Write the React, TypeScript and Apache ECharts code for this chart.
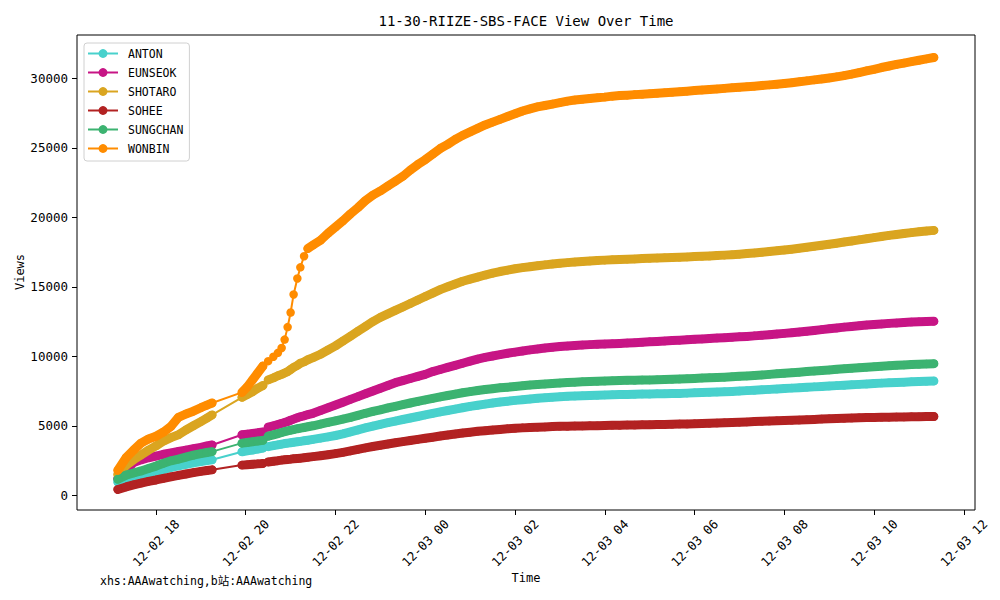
import React, { useEffect, useRef } from "react";
import * as echarts from "echarts";

const FONT = "'DejaVu Sans Mono', 'Noto Sans CJK SC', monospace";

const TITLE = "11-30-RIIZE-SBS-FACE View Over Time";
const X_NAME = "Time";
const Y_NAME = "Views";
const WATERMARK = "xhs:AAAwatching,b站:AAAwatching";

const NAMES = ["ANTON", "EUNSEOK", "SHOTARO", "SOHEE", "SUNGCHAN", "WONBIN"];
const COLORS = ["#48D1CC", "#C71585", "#DAA520", "#B22222", "#3CB371", "#FF8C00"];

const X_TICKS = [18, 20, 22, 24, 26, 28, 30, 32, 34, 36];
const Y_TICKS = [0, 5000, 10000, 15000, 20000, 25000, 30000];

const TIMES = [
  "12-02 17:09", "12-02 17:20", "12-02 17:30", "12-02 17:40", "12-02 17:50", "12-02 18:00", "12-02 18:10",
  "12-02 18:20", "12-02 18:30", "12-02 18:40", "12-02 18:50", "12-02 19:00", "12-02 19:08", "12-02 19:15",
  "12-02 19:55", "12-02 20:02", "12-02 20:09", "12-02 20:16", "12-02 20:23",
  "12-02 20:30", "12-02 20:37", "12-02 20:43", "12-02 20:48", "12-02 20:52", "12-02 20:56",
  "12-02 21:00", "12-02 21:04", "12-02 21:09", "12-02 21:13", "12-02 21:18", "12-02 21:23",
  "12-02 21:30", "12-02 21:40", "12-02 21:50",
  "12-02 22:00", "12-02 22:10", "12-02 22:20", "12-02 22:30", "12-02 22:40", "12-02 22:50",
  "12-02 23:00", "12-02 23:10", "12-02 23:20", "12-02 23:30", "12-02 23:40", "12-02 23:50",
  "12-03 00:00", "12-03 00:10", "12-03 00:20", "12-03 00:30", "12-03 00:40", "12-03 00:50",
  "12-03 01:00", "12-03 01:10", "12-03 01:20", "12-03 01:30", "12-03 01:40", "12-03 01:50",
  "12-03 02:00", "12-03 02:10", "12-03 02:20", "12-03 02:30", "12-03 02:40", "12-03 02:50",
  "12-03 03:00", "12-03 03:10", "12-03 03:20", "12-03 03:30", "12-03 03:40", "12-03 03:50",
  "12-03 04:00", "12-03 04:10", "12-03 04:20", "12-03 04:30", "12-03 04:40", "12-03 04:50",
  "12-03 05:00", "12-03 05:10", "12-03 05:20", "12-03 05:30", "12-03 05:40", "12-03 05:50",
  "12-03 06:00", "12-03 06:10", "12-03 06:20", "12-03 06:30", "12-03 06:40", "12-03 06:50",
  "12-03 07:00", "12-03 07:10", "12-03 07:20", "12-03 07:30", "12-03 07:40", "12-03 07:50",
  "12-03 08:00", "12-03 08:10", "12-03 08:20", "12-03 08:30", "12-03 08:40", "12-03 08:50",
  "12-03 09:00", "12-03 09:10", "12-03 09:20", "12-03 09:30", "12-03 09:40", "12-03 09:50",
  "12-03 10:00", "12-03 10:10", "12-03 10:20", "12-03 10:30", "12-03 10:40", "12-03 10:50",
  "12-03 11:00", "12-03 11:10", "12-03 11:20",
];

// Runs of closely spaced samples (drawn as a continuous band of markers)
const RUNS = [
  ["12-02 17:09", "12-02 19:15"],
  ["12-02 19:55", "12-02 20:23"],
  ["12-02 20:30", "12-03 11:20"],
];
const RUNS_WONBIN = [
  ["12-02 17:09", "12-02 19:15"],
  ["12-02 19:55", "12-02 20:23"],
  ["12-02 21:23", "12-03 11:20"],
];

const ANTON = [
  950, 1150, 1300, 1450, 1580, 1700, 1850, 2000, 2120, 2230, 2330, 2420, 2490, 2550,
  3130, 3200, 3260, 3330, 3400,
  3500, 3570, 3630, 3680, 3720, 3750, 3780, 3810, 3850, 3880, 3920, 3960,
  4020, 4110, 4200, 4300, 4420, 4560, 4700, 4850, 4980, 5100, 5220, 5340, 5450, 5560, 5670,
  5780, 5890, 6000, 6100, 6200, 6300,
  6400, 6480, 6560, 6640, 6710, 6770,
  6830, 6880, 6930, 6980, 7020, 7060,
  7090, 7120, 7140, 7160, 7180, 7200,
  7220, 7240, 7250, 7260, 7270, 7280,
  7290, 7300, 7310, 7320, 7330, 7350,
  7370, 7390, 7410, 7430, 7450, 7470,
  7500, 7530, 7560, 7590, 7620, 7650,
  7680, 7710, 7740, 7770, 7800, 7830,
  7860, 7890, 7920, 7950, 7980, 8010,
  8040, 8070, 8100, 8120, 8140, 8160,
  8180, 8200, 8220,
];

const EUNSEOK = [
  1200, 1800, 2350, 2550, 2700, 2820, 2950, 3050, 3150, 3250, 3350, 3450, 3550, 3620,
  4350, 4400, 4450, 4500, 4560,
  4900, 5000, 5090, 5170, 5240, 5310, 5400, 5480, 5580, 5650, 5720, 5800,
  5900, 6100, 6300, 6500, 6700, 6900, 7100, 7300, 7500, 7700, 7900, 8100, 8250, 8400, 8550,
  8700, 8900, 9050, 9200, 9350, 9500,
  9650, 9800, 9920, 10020, 10120, 10220,
  10300, 10380, 10460, 10530, 10600, 10650,
  10700, 10740, 10780, 10810, 10840, 10860,
  10880, 10900, 10920, 10950, 10980, 11010,
  11040, 11070, 11100, 11130, 11160, 11190,
  11220, 11250, 11280, 11310, 11340, 11370,
  11400, 11430, 11470, 11510, 11550, 11600,
  11650, 11700, 11750, 11800, 11860, 11920,
  11980, 12040, 12100, 12150, 12200, 12250,
  12290, 12330, 12370, 12400, 12430, 12460,
  12480, 12500, 12520,
];

const SHOTARO = [
  1500, 2150, 2550, 2900, 3250, 3550, 3900, 4150, 4350, 4700, 5000, 5300, 5550, 5780,
  7050, 7250, 7450, 7700, 7900,
  8300, 8450, 8600, 8700, 8800, 8900, 9050, 9200, 9350, 9500, 9600, 9750,
  9900, 10150, 10450, 10750, 11100, 11450, 11800, 12150, 12500, 12800, 13050, 13300, 13550, 13800, 14050,
  14300, 14550, 14800, 15000, 15200, 15400,
  15550, 15700, 15850, 15980, 16100, 16200,
  16300, 16380, 16450, 16520, 16580, 16640,
  16690, 16740, 16780, 16820, 16860, 16890,
  16920, 16950, 16970, 16990, 17010, 17030,
  17050, 17070, 17090, 17110, 17130, 17150,
  17180, 17200, 17220, 17250, 17280, 17310,
  17350, 17390, 17440, 17490, 17540, 17590,
  17650, 17710, 17780, 17850, 17920, 17990,
  18060, 18140, 18220, 18300, 18380, 18460,
  18540, 18620, 18700, 18770, 18840, 18900,
  18960, 19010, 19060,
];

const SOHEE = [
  420, 600, 750, 880, 1000, 1100, 1220, 1330, 1430, 1530, 1630, 1720, 1780, 1830,
  2170, 2200, 2230, 2260, 2290,
  2400, 2450, 2490, 2530, 2560, 2580, 2600, 2630, 2650, 2670, 2700, 2730,
  2780, 2850, 2920, 3000, 3090, 3190, 3300, 3410, 3510, 3600, 3690, 3780, 3860, 3940, 4020,
  4100, 4180, 4260, 4340, 4410, 4480,
  4540, 4600, 4650, 4700, 4740, 4780,
  4820, 4850, 4880, 4900, 4920, 4940,
  4960, 4970, 4980, 4990, 5000, 5010,
  5020, 5030, 5040, 5050, 5060, 5070,
  5080, 5090, 5100, 5110, 5120, 5130,
  5140, 5160, 5180, 5200, 5220, 5240,
  5260, 5280, 5300, 5320, 5340, 5360,
  5380, 5400, 5420, 5440, 5460, 5480,
  5500, 5520, 5540, 5560, 5580, 5590,
  5600, 5610, 5620, 5630, 5640, 5650,
  5655, 5660, 5665,
];

const SUNGCHAN = [
  1150, 1450, 1600, 1750, 1930, 2100, 2300, 2480, 2600, 2750, 2880, 3000, 3080, 3140,
  3750, 3800, 3850, 3900, 3950,
  4250, 4350, 4440, 4520, 4580, 4630, 4680, 4730, 4790, 4830, 4880, 4930,
  5000, 5120, 5240, 5360, 5480, 5600, 5750, 5900, 6030, 6150, 6280, 6400, 6520, 6640, 6750,
  6860, 6970, 7080, 7180, 7280, 7380,
  7460, 7540, 7610, 7670, 7730, 7780,
  7830, 7880, 7930, 7970, 8010, 8050,
  8080, 8110, 8140, 8160, 8180, 8200,
  8220, 8240, 8260, 8270, 8280, 8290,
  8300, 8310, 8330, 8350, 8370, 8390,
  8410, 8440, 8460, 8480, 8500, 8530,
  8560, 8590, 8620, 8660, 8700, 8740,
  8780, 8820, 8860, 8900, 8940, 8980,
  9020, 9060, 9100, 9140, 9180, 9220,
  9250, 9290, 9320, 9350, 9380, 9410,
  9430, 9450, 9470,
];

const WONBIN = [
  1800, 2700, 3250, 3750, 4050, 4250, 4550, 4950, 5600, 5850, 6050, 6300, 6480, 6640,
  7400, 7800, 8300, 8800, 9300,
  9650, 9970, 10250, 10600, 11200, 12100, 13150, 14450, 15600, 16400, 17200, 17750,
  18000, 18350, 18850, 19300, 19750, 20250, 20700, 21200, 21600, 21900, 22250, 22600, 22950, 23400, 23800,
  24150, 24550, 24950, 25250, 25600, 25900,
  26150, 26400, 26650, 26850, 27050, 27250,
  27450, 27650, 27800, 27950, 28050, 28150,
  28250, 28360, 28440, 28500, 28550, 28600,
  28650, 28720, 28760, 28790, 28830, 28860,
  28900, 28930, 28970, 29000, 29040, 29080,
  29120, 29160, 29200, 29240, 29280, 29320,
  29360, 29400, 29440, 29480, 29530, 29580,
  29630, 29690, 29750, 29820, 29890, 29960,
  30030, 30110, 30200, 30300, 30420, 30540,
  30650, 30780, 30890, 31000, 31100, 31200,
  31300, 31400, 31500,
];

const VALUES = [ANTON, EUNSEOK, SHOTARO, SOHEE, SUNGCHAN, WONBIN];

function toHours(s: string): number {
  const day = parseInt(s.slice(3, 5), 10);
  const hh = parseInt(s.slice(6, 8), 10);
  const mm = parseInt(s.slice(9, 11), 10);
  return (day - 2) * 24 + hh + mm / 60;
}

function fmtTick(h: number): string {
  const day = 2 + Math.floor(h / 24);
  const hh = Math.round(h - (day - 2) * 24);
  return `12-0${day} ${hh < 10 ? "0" + hh : hh}`;
}

function bandData(values: number[], runs: string[][]) {
  const out: any[] = [];
  runs.forEach((run, k) => {
    const a = TIMES.indexOf(run[0]);
    const b = TIMES.indexOf(run[1]);
    if (k > 0) out.push([toHours(run[0]) - 0.01, "-"]);
    for (let j = a; j <= b; j++) out.push([toHours(TIMES[j]), values[j]]);
  });
  return out;
}

export default function App() {
  const ref = useRef<HTMLDivElement>(null);

  useEffect(() => {
    document.body.style.margin = "0";
    if (!ref.current) return;
    const chart = echarts.init(ref.current, undefined, { renderer: "svg" });

    const series: any[] = [];
    NAMES.forEach((name, i) => {
      series.push({
        name,
        type: "line",
        data: TIMES.map((t, j) => [toHours(t), VALUES[i][j]]),
        symbol: "circle",
        symbolSize: 8.5,
        showSymbol: true,
        showAllSymbol: true,
        lineStyle: { width: 2, color: COLORS[i] },
        itemStyle: { color: COLORS[i] },
        emphasis: { disabled: true },
        z: 2 + i,
      });
      series.push({
        name,
        type: "line",
        data: bandData(VALUES[i], name === "WONBIN" ? RUNS_WONBIN : RUNS),
        symbol: "none",
        connectNulls: false,
        lineStyle: { width: 9, color: COLORS[i], cap: "round", join: "round" },
        itemStyle: { color: COLORS[i] },
        emphasis: { disabled: true },
        z: 2 + i,
      });
    });

    chart.setOption({
      animation: false,
      textStyle: { fontFamily: FONT },
      grid: {
        left: 77,
        right: 25,
        top: 35,
        bottom: 90,
        show: true,
        borderColor: "#000",
        borderWidth: 1,
        backgroundColor: "transparent",
      },
      legend: {
        orient: "vertical",
        left: 84,
        top: 43,
        padding: [3, 6, 5, 3],
        itemWidth: 30,
        itemHeight: 11,
        itemGap: 4,
        borderColor: "#d0d0d0",
        borderWidth: 1,
        borderRadius: 3,
        backgroundColor: "rgba(255,255,255,0.8)",
        selectedMode: false,
        textStyle: {
          fontFamily: FONT,
          fontSize: 11.5,
          color: "#000",
          lineHeight: 15,
          padding: [0, 0, 0, 5],
        },
        data: NAMES.map((n, i) => ({
          name: n,
          itemStyle: { color: COLORS[i] },
          lineStyle: { color: COLORS[i], width: 2 },
        })),
      },
      xAxis: {
        type: "value",
        min: 16.24,
        max: 36.25,
        axisLine: { show: false, onZero: false },
        splitLine: { show: false },
        axisTick: {
          show: true,
          inside: false,
          length: 5,
          lineStyle: { color: "#000", width: 1 },
          customValues: X_TICKS,
        },
        axisLabel: {
          customValues: X_TICKS,
          rotate: 45,
          align: "center",
          verticalAlign: "middle",
          margin: 33,
          fontFamily: FONT,
          fontSize: 12.5,
          color: "#000",
          formatter: (v: number) => fmtTick(v),
        },
      },
      yAxis: {
        type: "value",
        min: -1060,
        max: 33120,
        axisLine: { show: false, onZero: false },
        splitLine: { show: false },
        axisTick: {
          show: true,
          inside: false,
          length: 5,
          lineStyle: { color: "#000", width: 1 },
          customValues: Y_TICKS,
        },
        axisLabel: {
          customValues: Y_TICKS,
          margin: 9,
          fontFamily: FONT,
          fontSize: 12.5,
          color: "#000",
          formatter: (v: number) => String(v),
        },
      },
      graphic: [
        {
          type: "text",
          x: 526,
          y: 21,
          style: {
            text: TITLE,
            fontFamily: FONT,
            fontSize: 14,
            fill: "#000",
            align: "center",
            verticalAlign: "middle",
          },
        },
        {
          type: "text",
          x: 526,
          y: 578,
          style: {
            text: X_NAME,
            fontFamily: FONT,
            fontSize: 12,
            fill: "#000",
            align: "center",
            verticalAlign: "middle",
          },
        },
        {
          type: "text",
          x: 20,
          y: 272,
          rotation: Math.PI / 2,
          style: {
            text: Y_NAME,
            fontFamily: FONT,
            fontSize: 12,
            fill: "#000",
            align: "center",
            verticalAlign: "middle",
          },
        },
        {
          type: "text",
          x: 100,
          y: 581,
          style: {
            text: WATERMARK,
            fontFamily: FONT,
            fontSize: 11.5,
            fill: "#000",
            align: "left",
            verticalAlign: "middle",
          },
        },
      ],
      series,
    });

    return () => {
      chart.dispose();
    };
  }, []);

  return <div ref={ref} style={{ width: 1000, height: 600 }} />;
}
